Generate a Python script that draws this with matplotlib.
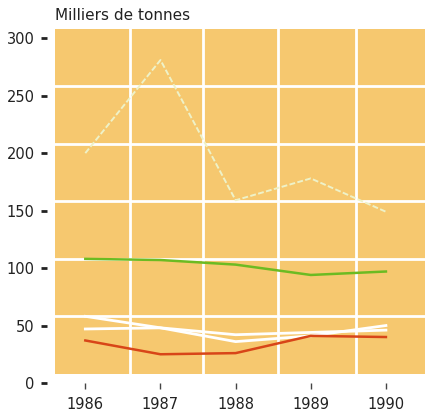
import matplotlib
matplotlib.use("Agg")
import matplotlib.pyplot as plt
from matplotlib.patches import Rectangle

# data (milliers de tonnes)
years = [1986, 1987, 1988, 1989, 1990]
pale_series = [200, 281, 159, 178, 149]
green_series = [108, 107, 103, 94, 97]
white_a = [58, 48, 36, 41, 50]
white_b = [47, 48, 42, 44, 46]
red_series = [37, 25, 26, 41, 40]
yticks = [0, 50, 100, 150, 200, 250, 300]

# printed grid is offset a bit from the tick values
grid_x = [1986.6, 1987.57, 1988.57, 1989.6]
grid_y = [58, 108, 158, 208, 258]

plt.rcParams['font.family'] = ['DejaVu Sans']

W, H = 425, 411
fig = plt.figure(figsize=(W / 100, H / 100), dpi=100)
left, right, bottom, top = 47, 425, 383, 29
ax = fig.add_axes([left / W, (H - bottom) / H, (right - left) / W, (bottom - top) / H])
ax.set_xlim(1985.49, 1990.52)
ax.set_ylim(0, 308)
ax.set_facecolor("white")

orange = "#F6C86F"
ax.add_patch(Rectangle((1985.6, 7.8), 1990.52 - 1985.6, 308 - 7.8,
                       facecolor=orange, edgecolor="none", zorder=0))
for gx in grid_x:
    ax.plot([gx, gx], [7.8, 308], color="white", lw=2.0, zorder=1)
for gy in grid_y:
    ax.plot([1985.6, 1990.52], [gy, gy], color="white", lw=2.0, zorder=1)

ax.plot(years, pale_series, color="#EEF2C8", lw=1.4, ls=(0, (3, 1.2)), zorder=3)
ax.plot(years, green_series, color="#6CBB22", lw=1.8, zorder=3)
ax.plot(years, white_a, color="white", lw=2.0, zorder=3)
ax.plot(years, white_b, color="white", lw=2.0, zorder=3)
ax.plot(years, red_series, color="#D84518", lw=1.8, zorder=4)

for s in ax.spines.values():
    s.set_visible(False)

ax.set_yticks(yticks)
ax.set_yticklabels([str(v) for v in yticks])
ax.set_xticks(years)
ax.set_xticklabels([str(y) for y in years])
ax.tick_params(axis="y", direction="out", length=4, width=2, color="#222222",
               pad=5, labelsize=10.5, labelcolor="#222222")
ax.tick_params(axis="x", direction="out", length=4, width=1, color="#444444",
               pad=6, labelsize=10.5, labelcolor="#222222")

fig.text(55 / W, 1 - 16 / H, "Milliers de tonnes", fontsize=11,
         color="#222222", ha="left", va="center")

fig.savefig("out.png", dpi=100)
